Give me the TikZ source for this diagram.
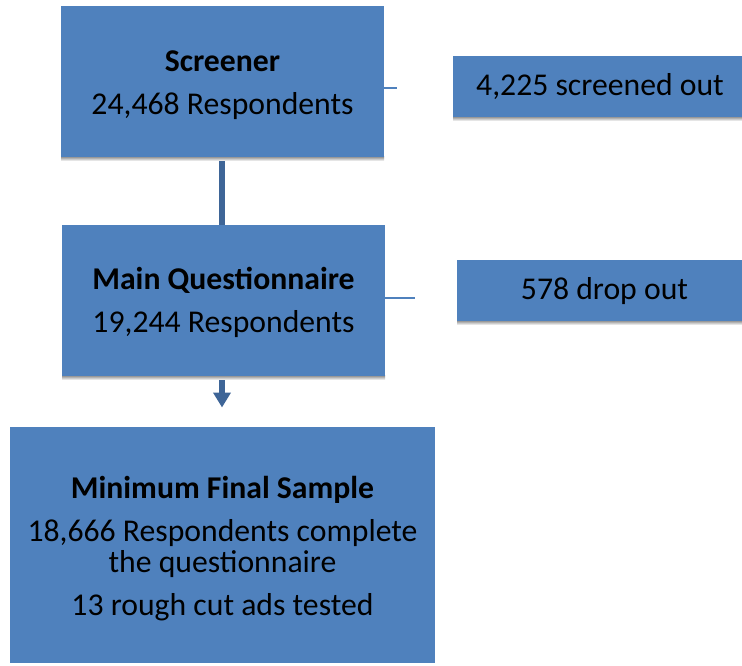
\documentclass[tikz,border=0pt]{standalone}
\usepackage{fontspec}
\setmainfont{Carlito}
\usetikzlibrary{arrows.meta}
\definecolor{boxblue}{HTML}{4F81BD}
\definecolor{linkblue}{HTML}{3E6597}
\definecolor{shade}{HTML}{9B9B9B}
\tikzset{
  x=1pt, y=-1pt,
  flowbox/.style={fill=boxblue, draw=none, inner sep=0pt},
  boxtext/.style={inner sep=0pt, align=center,
    font=\fontsize{31.7}{31}\selectfont, text=black},
  thinlink/.style={draw=boxblue, line width=1.2pt},
  thicklink/.style={draw=linkblue, line width=6pt},
}
\newcommand{\boxshade}[4]{\fill[shade] (#1,#3) rectangle (#2,#4);}
\begin{document}
\begin{tikzpicture}
\useasboundingbox (0,0) rectangle (742,665);
\clip (0,0) rectangle (742,665);
% bottom shading strips
\boxshade{61}{384}{156}{161}
\boxshade{62}{385}{375}{380}
\boxshade{453}{760}{116}{121}
\boxshade{457}{760}{320}{325}
% boxes
\node[flowbox, minimum width=323pt, minimum height=151pt] (scr) at (222.5,81.5) {};
\node[flowbox, minimum width=323pt, minimum height=151pt] (mq) at (223.5,300.5) {};
\node[flowbox, minimum width=425pt, minimum height=236pt] (fin) at (222.5,545) {};
\node[flowbox, minimum width=294pt, minimum height=61pt] (so) at (600,86.5) {};
\node[flowbox, minimum width=295pt, minimum height=61pt] (dr) at (604.5,290.5) {};
% box texts
\node[boxtext] (scrt) at ([yshift=-3.5pt]scr.center)
  {\textbf{Screener}\\[12pt]24,468 Respondents};
\node[boxtext] (mqt) at ([yshift=-1.5pt]mq.center)
  {\textbf{Main Questionnaire}\\[12pt]19,244 Respondents};
\node[boxtext] (fint) at ([yshift=-4pt]fin.center)
  {\textbf{Minimum Final Sample}\\[12pt]18,666 Respondents complete\\the questionnaire\\[12pt]13 rough cut ads tested};
\node[boxtext] (sot) at ([yshift=-0.5pt]so.center) {4,225 screened out};
\node[boxtext] (drt) at ([yshift=-0.5pt]dr.center) {578 drop out};
% side ticks
\coordinate (t1) at (397,88);
\coordinate (t2) at (415,298);
\draw[thinlink] (scr.east |- t1) -- (t1);
\draw[thinlink] (mq.east |- t2) -- (t2);
% vertical links
\coordinate (a1) at (222,161);
\coordinate (a2) at (222,380);
\coordinate (a3) at (222,407);
\draw[thicklink] (a1) -- (a1 |- mq.north);
\draw[thicklink, -{Triangle[length=15pt, width=17pt]}, shorten >=-0.5pt] (a2) -- (a3);
\end{tikzpicture}
\end{document}
